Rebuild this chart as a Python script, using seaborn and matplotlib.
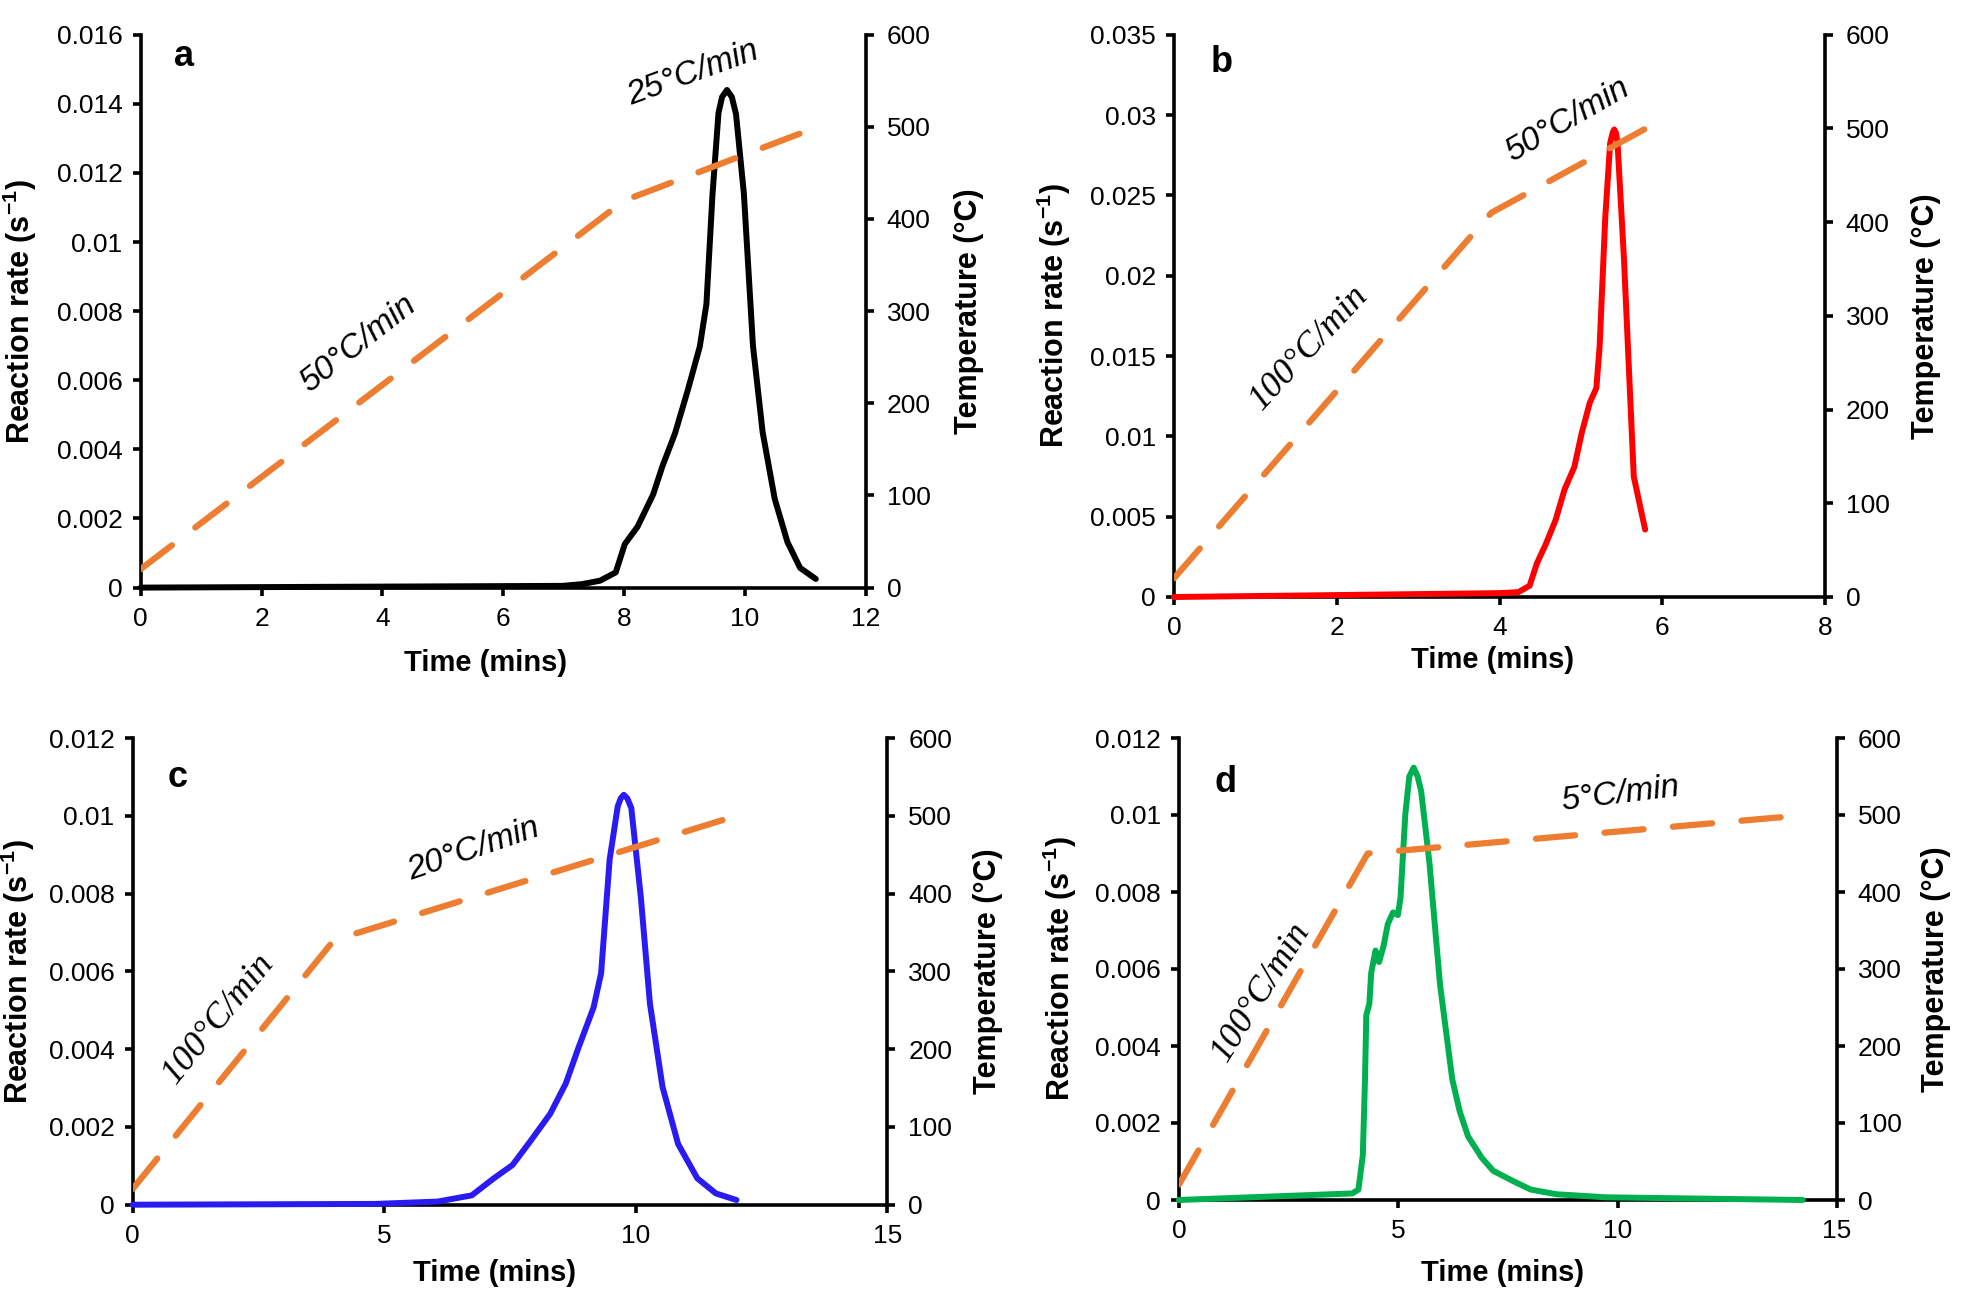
import numpy as np
import pandas as pd
import seaborn as sns
import matplotlib.pyplot as plt
from matplotlib.ticker import FuncFormatter, MultipleLocator

# ---- data ----
# panel a (black)
time_a = [0, 6.98, 7.3, 7.6, 7.86, 8.01, 8.22, 8.48, 8.63, 8.84, 9.05, 9.25, 9.36, 9.46, 9.56, 9.62,
          9.70, 9.78, 9.85, 9.98, 10.13, 10.29, 10.49, 10.70, 10.91, 11.17]
rate_a = [0, 0.00005, 0.0001, 0.0002, 0.00044, 0.00126, 0.00176, 0.0027, 0.0035, 0.00446, 0.0057,
          0.00697, 0.0082, 0.01136, 0.01374, 0.0142, 0.0144, 0.0142, 0.0137, 0.0114, 0.0070,
          0.0045, 0.00257, 0.00132, 0.00057, 0.00025]
temp_time_a = [0, 8.0, 11.2]
temp_a = [20, 420, 500]

# panel b (red)
time_b = [0, 4.0, 4.23, 4.37, 4.46, 4.57, 4.69, 4.80, 4.92, 5.01, 5.11, 5.19, 5.23, 5.30, 5.36,
          5.39, 5.41, 5.43, 5.45, 5.53, 5.65, 5.73, 5.79]
rate_b = [0, 0.00024, 0.0003, 0.0007, 0.0021, 0.0033, 0.0048, 0.0067, 0.0081, 0.0102, 0.0121,
          0.0130, 0.01556, 0.02366, 0.02825, 0.0289, 0.0291, 0.0289, 0.0283, 0.021, 0.0075,
          0.0056, 0.0042]
temp_time_b = [0, 3.9, 5.8]
temp_b = [20, 410, 500]

# panel c (blue)
time_c = [0, 4.82, 6.06, 6.74, 7.18, 7.55, 7.92, 8.30, 8.61, 8.85, 9.16, 9.31, 9.48, 9.64, 9.70,
          9.76, 9.83, 9.91, 10.10, 10.28, 10.53, 10.84, 11.22, 11.59, 12.0]
rate_c = [0, 0.00002, 0.00008, 0.00024, 0.00068, 0.00102, 0.00166, 0.00234, 0.00312, 0.004,
          0.00507, 0.00595, 0.00888, 0.01024, 0.01045, 0.01054, 0.01045, 0.0102, 0.0079, 0.00517,
          0.00303, 0.00156, 0.00068, 0.00029, 0.00012]
temp_time_c = [0, 4.0, 12.0]
temp_c = [20, 340, 500]

# panel d (green)
time_d = [0, 3.95, 4.09, 4.19, 4.24, 4.27, 4.34, 4.38, 4.48, 4.56, 4.66, 4.76, 4.88, 4.99, 5.05,
          5.16, 5.25, 5.35, 5.44, 5.52, 5.71, 5.95, 6.23, 6.4, 6.59, 6.9, 7.16, 7.6, 8.02, 8.6,
          9.73, 14.22]
rate_d = [0, 0.00017, 0.00027, 0.00116, 0.00313, 0.0048, 0.0051, 0.00589, 0.00648, 0.00618,
          0.00658, 0.00717, 0.00747, 0.0074, 0.00786, 0.01003, 0.0110, 0.01123, 0.0110, 0.01062,
          0.00875, 0.0056, 0.00313, 0.0023, 0.00165, 0.0011, 0.00076, 0.0005, 0.00027, 0.00015,
          0.00007, 0]
temp_time_d = [0, 4.3, 14.3]
temp_d = [20, 450, 500]

sns.set_theme(style='ticks')
plt.rcParams['font.family'] = ['Liberation Sans', 'DejaVu Sans']
plt.rcParams['mathtext.fontset'] = 'custom'
plt.rcParams['mathtext.rm'] = 'Liberation Sans'
plt.rcParams['mathtext.bf'] = 'Liberation Sans:bold'
for k in ['text.color', 'axes.labelcolor', 'xtick.color', 'ytick.color', 'axes.edgecolor']:
    plt.rcParams[k] = 'black'

W, H = 1961, 1295
fig = plt.figure(figsize=(W / 100, H / 100), dpi=100)
orange = '#ED7D31'

panels = [
    # letter, time, rate, temp time, temp, color, ylim, ystep, xlim, xstep, rect(px), label coords
    ('a', time_a, rate_a, temp_time_a, temp_a, 'black', 0.016, 0.002, 12, 2,
     (140.6, 34.7, 866, 587.6), (-0.166, 1.142, 0.475, -0.136)),
    ('b', time_b, rate_b, temp_time_b, temp_b, '#FF0000', 0.035, 0.005, 8, 2,
     (1174, 34.7, 1825, 597), (-0.184, 1.155, 0.49, -0.112)),
    ('c', time_c, rate_c, temp_time_c, temp_c, '#2A1BF2', 0.012, 0.002, 15, 5,
     (132.5, 738, 887.5, 1204.7), (-0.152, 1.133, 0.479, -0.146)),
    ('d', time_d, rate_d, temp_time_d, temp_d, '#00B050', 0.012, 0.002, 15, 5,
     (1179, 738, 1837, 1200), (-0.181, 1.150, 0.491, -0.158)),
]

fmt = FuncFormatter(lambda v, p: '%g' % round(v, 4))
lw_ax = 2.6

for letter, t, r, tt, temp, col, ymax, ystep, xmax, xstep, (x0, y0, x1, y1), (lx, rx, bx, by) in panels:
    ax = fig.add_axes([x0 / W, 1 - y1 / H, (x1 - x0) / W, (y1 - y0) / H])
    df = pd.DataFrame({'t': t, 'r': r})
    sns.lineplot(data=df, x='t', y='r', ax=ax, color=col, linewidth=4.3, sort=False,
                 estimator=None, clip_on=False, zorder=3, solid_joinstyle='round',
                 solid_capstyle='round')
    ax.set_xlim(0, xmax)
    ax.set_ylim(0, ymax)
    ax.xaxis.set_major_locator(MultipleLocator(xstep))
    ax.yaxis.set_major_locator(MultipleLocator(ystep))
    ax.yaxis.set_major_formatter(fmt)
    ax.spines['top'].set_visible(False)
    ax.spines['right'].set_visible(False)
    for s in ['left', 'bottom']:
        ax.spines[s].set_linewidth(lw_ax)
        ax.spines[s].set_color('black')
    ax.tick_params(axis='y', direction='out', length=6, width=lw_ax, pad=7, labelsize=19, colors='black')
    ax.tick_params(axis='x', direction='out', length=6, width=lw_ax, pad=8, labelsize=19, colors='black')
    ax.set_xlabel('Time (mins)', fontsize=21, fontweight='bold', va='center')
    ax.xaxis.set_label_coords(bx, by)
    ax.set_ylabel('Reaction rate (s$^{\\mathbf{-1}}$)', fontsize=22, fontweight='bold', va='center')
    ax.yaxis.set_label_coords(lx, 0.5)

    ax2 = ax.twinx()
    dft = pd.DataFrame({'t': tt, 'T': temp})
    sns.lineplot(data=dft, x='t', y='T', ax=ax2, color=orange, linewidth=4.5, sort=False,
                 estimator=None, zorder=4)
    ax2.lines[-1].set_dashes([6.3, 4.7])
    ax2.lines[-1].set_dash_capstyle('round')
    ax2.set_ylim(0, 600)
    ax2.yaxis.set_major_locator(MultipleLocator(100))
    for s in ['top', 'left', 'bottom']:
        ax2.spines[s].set_visible(False)
    ax2.spines['right'].set_linewidth(lw_ax)
    ax2.spines['right'].set_color('black')
    ax2.tick_params(axis='y', direction='out', length=6, width=lw_ax, pad=9, labelsize=19, colors='black')
    ax2.set_ylabel('Temperature (°C)', fontsize=22, fontweight='bold', va='center')
    ax2.yaxis.set_label_coords(rx, 0.5)
    ax2.set_xlim(0, xmax)

# panel letters
for letter, x, y in [('a', 184, 56), ('b', 1222, 63), ('c', 178, 778), ('d', 1226, 783)]:
    fig.text(x / W, 1 - y / H, letter, fontsize=26, fontweight='bold', ha='center', va='center')

# heating-rate annotations
sans_notes = [('50°C/min', 358, 344, 38), ('25°C/min', 693, 73, 20), ('50°C/min', 1568, 120, 30),
              ('20°C/min', 474, 850, 19), ('5°C/min', 1620, 794, 7)]
for s, x, y, rot in sans_notes:
    fig.text(x / W, 1 - y / H, s, fontsize=24, style='italic', rotation=rot,
             rotation_mode='anchor', ha='center', va='center')

serif_notes = [('100°C/min', 1309, 348, 47), ('100°C/min', 219, 1019, 51), ('100°C/min', 1261, 992, 58)]
for s, x, y, rot in serif_notes:
    fig.text(x / W, 1 - y / H, s, fontsize=26, style='italic', rotation=rot,
             family=['Liberation Serif', 'DejaVu Serif'], rotation_mode='anchor', ha='center', va='center')

fig.savefig('out.png', dpi=100, facecolor='white')
